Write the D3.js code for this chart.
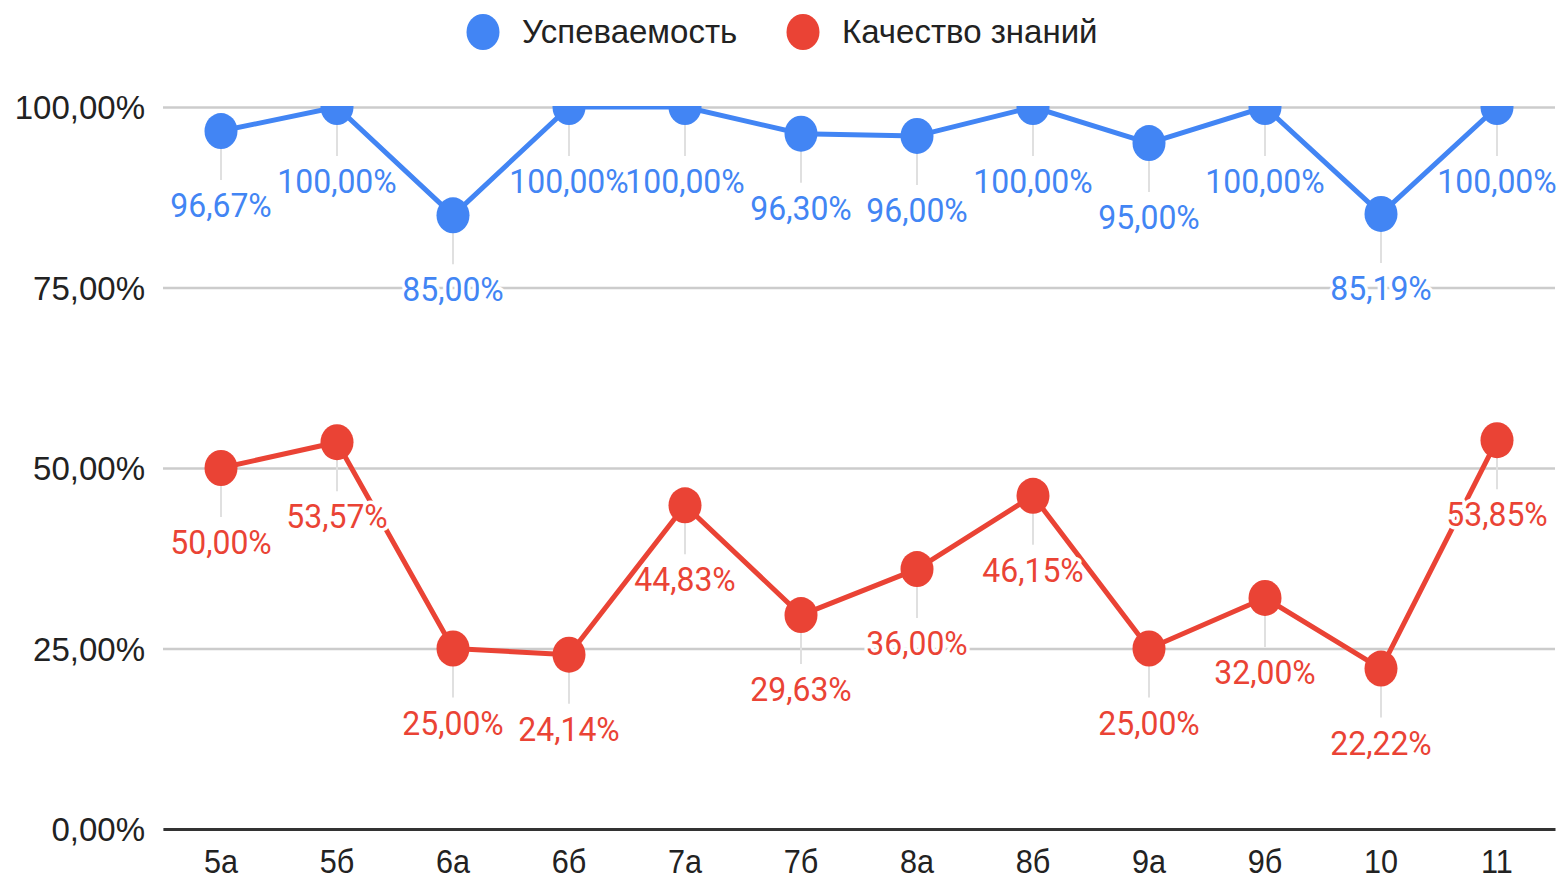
<!DOCTYPE html>
<html>
<head>
<meta charset="utf-8">
<script src="https://cdnjs.cloudflare.com/ajax/libs/d3/7.8.5/d3.min.js"></script>
<style>
  body { margin: 0; background: #fff; }
  svg { display: block; }
  .axis text { font-family: "Liberation Sans", Arial, sans-serif; font-size: 33px; fill: #222; }
  .lbl { font-family: Roboto, sans-serif; font-size: 34px; paint-order: stroke; stroke: #fff; stroke-width: 7px; stroke-linejoin: round; }
</style>
</head>
<body>
<svg id="chart" width="1563" height="882"></svg>
<script>
const classes = ["5а", "5б", "6а", "6б", "7а", "7б", "8а", "8б", "9а", "9б", "10", "11"];
const uspevaemost = [96.67, 100, 85, 100, 100, 96.30, 96, 100, 95, 100, 85.19, 100];
const kachestvo = [50, 53.57, 25, 24.14, 44.83, 29.63, 36, 46.15, 25, 32, 22.22, 53.85];
const yTicks = [0, 25, 50, 75, 100];
const seriesNames = ["Успеваемость", "Качество знаний"];
const colors = ["#4285f4", "#ea4335"];

const margin = { top: 107, right: 8, bottom: 53, left: 163 };
const svg = d3.select("svg#chart"),
  width = +svg.attr("width") - margin.left - margin.right,
  height = +svg.attr("height") - margin.top - margin.bottom,
  g = svg.append("g").attr("transform", `translate(${margin.left}, ${margin.top})`);

const ru = d3.formatLocale({ decimal: ",", thousands: " ", grouping: [3], currency: ["", ""] });
const fmt = v => ru.format(".2f")(v) + "%";

const x = d3.scaleBand().domain(classes).range([0, width]);
const y = d3.scaleLinear().domain([0, 100]).range([height, 0]);

// grid + y labels
const yAxis = g.append("g")
  .attr("class", "axis")
  .call(d3.axisLeft(y).tickValues(yTicks).tickFormat(fmt).tickSize(-width).tickPadding(18));
yAxis.select(".domain").remove();
yAxis.selectAll(".tick line").attr("stroke", "#cccccc").attr("stroke-width", 2.5);
yAxis.selectAll(".tick text").attr("dy", "0.36em");

// baseline + x labels
const xAxis = g.append("g")
  .attr("class", "axis")
  .attr("transform", `translate(0, ${height})`)
  .call(d3.axisBottom(x).tickSize(0).tickPadding(20));
xAxis.select(".domain").attr("stroke", "#333").attr("stroke-width", 3);
xAxis.selectAll(".tick text")
  .attr("dy", "0.71em")
  .style("font-size", "34px")
  .attr("transform", "scale(0.9,1)");

svg.append("defs").append("clipPath").attr("id", "plot")
  .append("rect").attr("x", -10).attr("y", -1).attr("width", width + 20).attr("height", height + 20);

const series = [uspevaemost, kachestvo].map((vals, i) => ({
  name: seriesNames[i],
  color: colors[i],
  points: vals.map((v, j) => ({ cls: classes[j], v: v }))
}));

const cx = d => x(d.cls) + x.bandwidth() / 2;

// leader lines
series.forEach(s => {
  g.selectAll(null).data(s.points).enter().append("line")
    .attr("x1", cx).attr("x2", cx)
    .attr("y1", d => y(d.v) + 10)
    .attr("y2", d => y(d.v) + 49)
    .attr("stroke", "#e0e0e0")
    .attr("stroke-width", 2);
});

const plot = g.append("g").attr("clip-path", "url(#plot)");
const line = d3.line().x(cx).y(d => y(d.v));

series.forEach(s => {
  plot.append("path")
    .datum(s.points)
    .attr("fill", "none")
    .attr("stroke", s.color)
    .attr("stroke-width", 5)
    .attr("stroke-linejoin", "round")
    .attr("d", line);
  plot.selectAll(null).data(s.points).enter().append("ellipse")
    .attr("cx", cx).attr("cy", d => y(d.v))
    .attr("rx", 16.5).attr("ry", 18)
    .attr("fill", s.color);
});

// data labels
series.forEach(s => {
  g.selectAll(null).data(s.points).enter().append("text")
    .attr("class", "lbl")
    .attr("transform", d => `translate(${cx(d)}, ${y(d.v) + 86}) scale(0.94,1)`)
    .attr("text-anchor", "middle")
    .attr("fill", s.color)
    .text(d => fmt(d.v));
});

// legend
const legendX = [483, 803];
const legend = svg.selectAll(".legend")
  .data(series)
  .enter().append("g")
  .attr("class", "legend")
  .attr("transform", (d, i) => `translate(${legendX[i]}, 32)`);
legend.append("ellipse").attr("rx", 16.5).attr("ry", 18).attr("fill", d => d.color);
legend.append("text")
  .attr("x", 39)
  .attr("y", 11)
  .style("font-family", "'Liberation Sans', Arial, sans-serif")
  .style("font-size", "33px")
  .attr("fill", "#222")
  .text(d => d.name);
</script>
</body>
</html>
